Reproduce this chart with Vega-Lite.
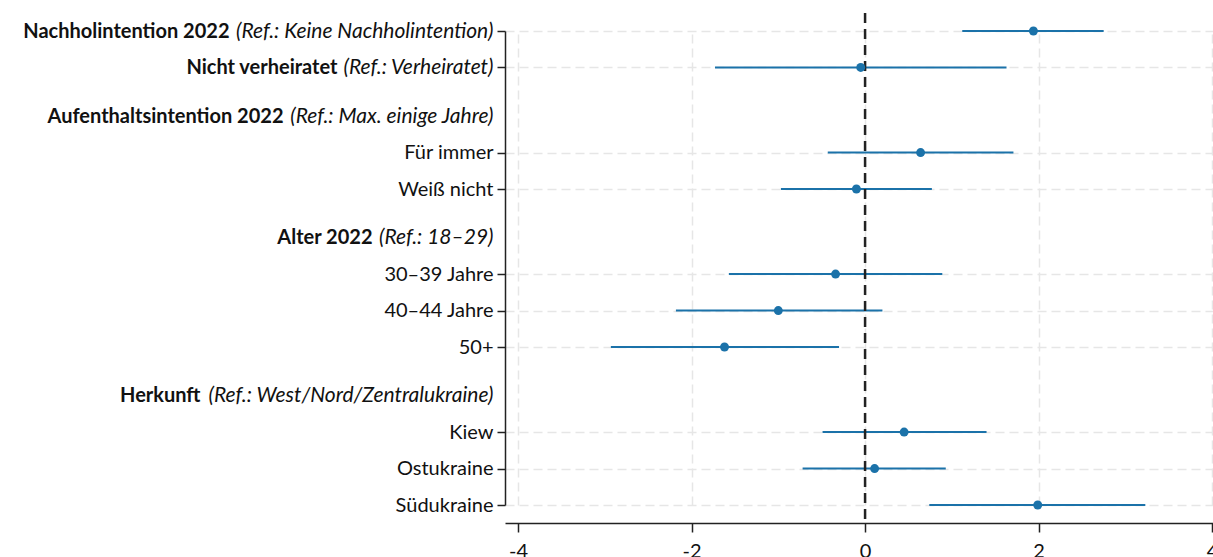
{
  "$schema": "https://vega.github.io/schema/vega-lite/v6.json",
  "width": 708,
  "height": 510,
  "autosize": "none",
  "padding": {"left": 505, "top": 13, "right": 0, "bottom": 34},
  "background": "white",
  "config": {"view": {"stroke": null}, "font": "Lato"},
  "data": {"values": [
    {"term": "Nachholintention 2022", "coef": 1.94, "lo": 1.12, "hi": 2.75},
    {"term": "Nicht verheiratet", "coef": -0.05, "lo": -1.73, "hi": 1.63},
    {"term": "Für immer", "coef": 0.64, "lo": -0.43, "hi": 1.71},
    {"term": "Weiß nicht", "coef": -0.10, "lo": -0.97, "hi": 0.77},
    {"term": "30–39 Jahre", "coef": -0.34, "lo": -1.57, "hi": 0.89},
    {"term": "40–44 Jahre", "coef": -1.00, "lo": -2.18, "hi": 0.20},
    {"term": "50+", "coef": -1.62, "lo": -2.93, "hi": -0.30},
    {"term": "Kiew", "coef": 0.45, "lo": -0.49, "hi": 1.40},
    {"term": "Ostukraine", "coef": 0.11, "lo": -0.72, "hi": 0.93},
    {"term": "Südukraine", "coef": 1.99, "lo": 0.74, "hi": 3.23}
  ]},
  "layer": [
    {
      "mark": {"type": "rule", "color": "#1b72a9", "strokeWidth": 2},
      "encoding": {
        "x": {"field": "lo", "type": "quantitative",
          "scale": {"domain": [-4.15, 4.01], "nice": false, "zero": false},
          "axis": {"title": null, "values": [-4, -2, 0, 2, 4], "labelExpr": "'' + datum.value",
            "grid": true, "gridDash": [9, 5], "gridColor": "#e6e6e6", "gridWidth": 1.5,
            "tickSize": 9, "tickColor": "#222", "tickWidth": 1.5,
            "domainColor": "#222", "domainWidth": 1.5,
            "labelFont": "Lato", "labelFontSize": 20, "labelColor": "#111", "labelPadding": 9,
            "labelFlush": false, "labelOverlap": false, "labelBound": false}},
        "x2": {"field": "hi"},
        "y": {"field": "term", "type": "nominal",
          "scale": {"type": "point", "padding": 0, "range": [18, 492], "domain": [
            "Nachholintention 2022", "s1", "s2", "Nicht verheiratet", "s3", "s4", "s5",
            "Aufenthaltsintention 2022", "s6", "s7", "Für immer", "s8", "s9", "Weiß nicht", "s10", "s11", "s12",
            "Alter 2022", "s13", "s14", "30–39 Jahre", "s15", "s16", "40–44 Jahre", "s17", "s18", "50+", "s19", "s20", "s21",
            "Herkunft", "s22", "s23", "Kiew", "s24", "s25", "Ostukraine", "s26", "s27", "Südukraine"]},
          "axis": {"title": null, "orient": "left",
            "values": ["Nachholintention 2022", "Nicht verheiratet", "Aufenthaltsintention 2022", "Für immer", "Weiß nicht", "Alter 2022", "30–39 Jahre", "40–44 Jahre", "50+", "Herkunft", "Kiew", "Ostukraine", "Südukraine"],
            "labelExpr": "datum.value == 'Nachholintention 2022' ? '(Ref.: Keine Nachholintention)' : datum.value == 'Nicht verheiratet' ? '(Ref.: Verheiratet)' : datum.value == 'Aufenthaltsintention 2022' ? '(Ref.: Max. einige Jahre)' : datum.value == 'Alter 2022' ? '(Ref.: 18–29)' : datum.value == 'Herkunft' ? '(Ref.: West/Nord/Zentralukraine)' : datum.value",
            "labelFontStyle": {"condition": {"test": "indexof(['Nachholintention 2022','Nicht verheiratet','Aufenthaltsintention 2022','Alter 2022','Herkunft'], datum.value) >= 0", "value": "italic"}, "value": "normal"},
            "labelFontSize": {"condition": {"test": "indexof(['Nachholintention 2022','Nicht verheiratet','Aufenthaltsintention 2022','Alter 2022','Herkunft'], datum.value) >= 0", "value": 21}, "value": 20},
            "tickOpacity": {"condition": {"test": "indexof(['Aufenthaltsintention 2022','Alter 2022','Herkunft'], datum.value) >= 0", "value": 0}, "value": 1},
            "gridOpacity": {"condition": {"test": "indexof(['Aufenthaltsintention 2022','Alter 2022','Herkunft'], datum.value) >= 0", "value": 0}, "value": 1},
            "grid": true, "gridDash": [9, 5], "gridColor": "#e6e6e6", "gridWidth": 1.5,
            "tickSize": 8, "tickColor": "#222", "tickWidth": 1.5,
            "domainColor": "#222", "domainWidth": 1.5,
            "labelFont": "Lato", "labelColor": "#111", "labelPadding": 4,
            "labelLimit": 1000, "labelOverlap": false, "labelBound": false}}
      }
    },
    {
      "data": {"values": [{"ref": 0}]},
      "mark": {"type": "rule", "color": "#222", "strokeWidth": 2.5, "strokeDash": [10, 6]},
      "encoding": {"x": {"field": "ref", "type": "quantitative"}}
    },
    {
      "mark": {"type": "point", "filled": true, "opacity": 1, "color": "#1b72a9", "size": 80},
      "encoding": {
        "x": {"field": "coef", "type": "quantitative"},
        "y": {"field": "term", "type": "nominal", "axis": null}
      }
    },
    {
      "mark": {"type": "point", "opacity": 0},
      "encoding": {
        "x": {"field": "coef", "type": "quantitative"},
        "y": {"field": "term", "type": "nominal",
          "axis": {"title": null, "orient": "left",
            "values": ["Nachholintention 2022", "Nicht verheiratet", "Aufenthaltsintention 2022", "Alter 2022", "Herkunft"],
            "grid": false, "domain": false, "ticks": true, "tickOpacity": 0, "tickSize": 8,
            "labelFont": "Lato", "labelFontSize": 20, "labelFontWeight": "bold", "labelColor": "#111",
            "labelLimit": 1000, "labelOverlap": false, "labelBound": false,
            "labelPadding": {"condition": [
              {"test": "datum.value == 'Nachholintention 2022'", "value": 268},
              {"test": "datum.value == 'Nicht verheiratet'", "value": 160},
              {"test": "datum.value == 'Aufenthaltsintention 2022'", "value": 214},
              {"test": "datum.value == 'Alter 2022'", "value": 125},
              {"test": "datum.value == 'Herkunft'", "value": 297}], "value": 4}}}
      }
    }
  ],
  "resolve": {"axis": {"y": "independent"}}
}
